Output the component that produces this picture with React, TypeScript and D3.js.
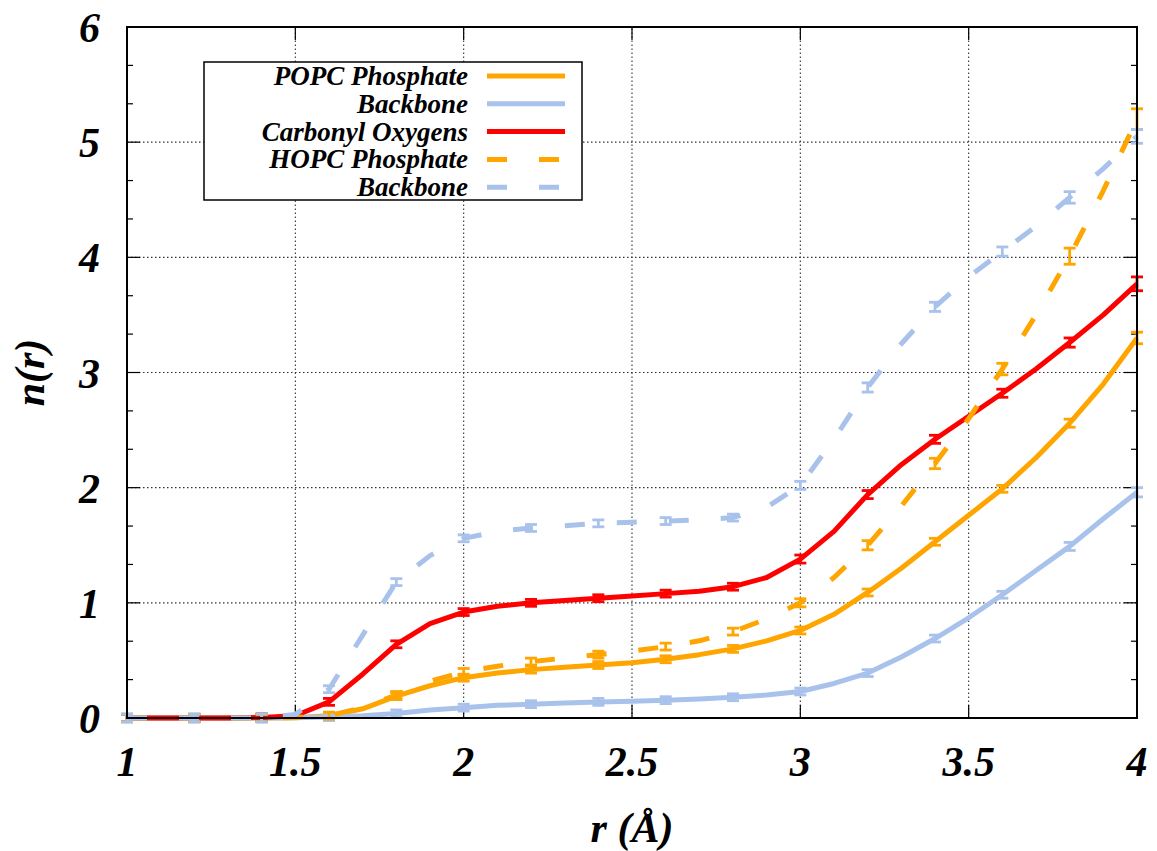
import React, { useEffect, useRef } from 'react';
import * as d3 from 'd3';

// r grid (Å) and the cumulative coordination numbers n(r)
const rValues = [1.0, 1.1, 1.2, 1.3, 1.4, 1.5, 1.6, 1.7, 1.8, 1.9, 2.0, 2.1, 2.2, 2.3, 2.4, 2.5,
  2.6, 2.7, 2.8, 2.9, 3.0, 3.1, 3.2, 3.3, 3.4, 3.5, 3.6, 3.7, 3.8, 3.9, 4.0];

const popcPhosphate = [0, 0, 0, 0, 0, 0.003, 0.02, 0.08, 0.19, 0.28, 0.35, 0.39, 0.42, 0.44, 0.46, 0.48,
  0.51, 0.55, 0.60, 0.67, 0.76, 0.90, 1.09, 1.30, 1.53, 1.76, 1.99, 2.26, 2.56, 2.90, 3.30];
const popcBackbone = [0, 0, 0, 0, 0, 0.002, 0.008, 0.02, 0.04, 0.07, 0.09, 0.11, 0.12, 0.13, 0.14, 0.145,
  0.155, 0.165, 0.18, 0.20, 0.23, 0.30, 0.39, 0.53, 0.69, 0.87, 1.07, 1.28, 1.49, 1.73, 1.96];
const carbonylOxygens = [0, 0, 0, 0, 0.005, 0.02, 0.14, 0.38, 0.64, 0.82, 0.92, 0.97, 1.00, 1.02, 1.04, 1.06,
  1.08, 1.10, 1.14, 1.22, 1.38, 1.62, 1.94, 2.20, 2.42, 2.62, 2.82, 3.03, 3.26, 3.50, 3.77];
const hopcPhosphate = [0, 0, 0, 0, 0, 0.005, 0.02, 0.09, 0.20, 0.32, 0.40, 0.45, 0.49, 0.52, 0.55, 0.58,
  0.62, 0.67, 0.75, 0.86, 1.00, 1.22, 1.50, 1.84, 2.21, 2.60, 3.03, 3.50, 4.01, 4.58, 5.20];
const hopcBackbone = [0, 0, 0, 0, 0, 0.03, 0.25, 0.72, 1.18, 1.41, 1.56, 1.62, 1.65, 1.67, 1.69, 1.70,
  1.71, 1.72, 1.74, 1.83, 2.02, 2.42, 2.87, 3.25, 3.57, 3.83, 4.05, 4.27, 4.52, 4.77, 5.05];

// error bars are only drawn every 0.2 Å
const errR = [1.0, 1.2, 1.4, 1.6, 1.8, 2.0, 2.2, 2.4, 2.6, 2.8, 3.0, 3.2, 3.4, 3.6, 3.8, 4.0];
const popcPhosphateErr = [0.03, 0.03, 0.03, 0.03, 0.03, 0.03, 0.03, 0.03, 0.03, 0.03, 0.03, 0.03, 0.03, 0.03, 0.035, 0.05];
const popcBackboneErr = [0.035, 0.035, 0.035, 0.03, 0.03, 0.03, 0.03, 0.03, 0.03, 0.03, 0.03, 0.03, 0.03, 0.03, 0.035, 0.04];
const carbonylErr = [0.03, 0.03, 0.03, 0.03, 0.03, 0.03, 0.03, 0.03, 0.03, 0.03, 0.035, 0.035, 0.035, 0.035, 0.04, 0.06];
const hopcPhosphateErr = [0.03, 0.03, 0.03, 0.03, 0.03, 0.03, 0.03, 0.03, 0.03, 0.03, 0.035, 0.04, 0.045, 0.05, 0.07, 0.09];
const hopcBackboneErr = [0.035, 0.035, 0.035, 0.03, 0.03, 0.03, 0.03, 0.03, 0.03, 0.03, 0.035, 0.04, 0.04, 0.04, 0.05, 0.06];

const xTicks = [1, 1.5, 2, 2.5, 3, 3.5, 4];
const yTicks = [0, 1, 2, 3, 4, 5, 6];

const seriesNames = ['POPC Phosphate', 'Backbone', 'Carbonyl Oxygens', 'HOPC Phosphate', 'Backbone'];

const ORANGE = '#ffa500';
const LBLUE = '#a8c2ec';
const RED = '#ff0000';
const FONT = '"Liberation Serif", "Times New Roman", serif';

export default function App() {
  const ref = useRef<SVGSVGElement | null>(null);

  const width = 1157;
  const height = 851;
  const margin = { top: 27, right: 20, bottom: 133, left: 127 };

  useEffect(() => {
    const svg = d3.select(ref.current);
    svg.selectAll('*').remove();

    const x = d3.scaleLinear().domain([1, 4]).range([margin.left, width - margin.right]);
    const y = d3.scaleLinear().domain([0, 6]).range([height - margin.bottom, margin.top]);
    const [x0, x1] = x.range();
    const [y0, y1] = y.range();

    svg.append('rect').attr('width', width).attr('height', height).attr('fill', '#fff');

    // dotted grid
    const grid = svg.append('g').attr('stroke', '#333').attr('stroke-width', 1.1)
      .attr('stroke-dasharray', '1.5,2.5');
    xTicks.slice(1, -1).forEach(t => {
      grid.append('line').attr('x1', x(t)).attr('x2', x(t)).attr('y1', y0).attr('y2', y1);
    });
    yTicks.slice(1, -1).forEach(t => {
      grid.append('line').attr('x1', x0).attr('x2', x1).attr('y1', y(t)).attr('y2', y(t));
    });

    // ticks (inward, mirrored)
    const ticks = svg.append('g').attr('stroke', '#000').attr('stroke-width', 1.2);
    yTicks.forEach(t => {
      ticks.append('line').attr('x1', x0).attr('x2', x0 + 13).attr('y1', y(t)).attr('y2', y(t));
      ticks.append('line').attr('x1', x1).attr('x2', x1 - 13).attr('y1', y(t)).attr('y2', y(t));
    });
    d3.range(1, 18).filter(k => k % 3 !== 0).forEach(k => {
      const v = k / 3;
      ticks.append('line').attr('x1', x0).attr('x2', x0 + 6).attr('y1', y(v)).attr('y2', y(v));
      ticks.append('line').attr('x1', x1).attr('x2', x1 - 6).attr('y1', y(v)).attr('y2', y(v));
    });
    xTicks.forEach(t => {
      ticks.append('line').attr('x1', x(t)).attr('x2', x(t)).attr('y1', y0).attr('y2', y0 - 13);
      ticks.append('line').attr('x1', x(t)).attr('x2', x(t)).attr('y1', y1).attr('y2', y1 + 13);
    });

    // tick labels
    svg.append('g').selectAll('text').data(yTicks).join('text')
      .attr('x', 100).attr('y', d => y(d)).attr('dy', '0.36em')
      .attr('text-anchor', 'end')
      .attr('font-family', FONT).attr('font-size', 42)
      .attr('font-weight', 'bold').attr('font-style', 'italic')
      .text(d => d3.format('~g')(d));

    svg.append('g').selectAll('text').data(xTicks).join('text')
      .attr('x', d => x(d)).attr('y', 776)
      .attr('text-anchor', 'middle')
      .attr('font-family', FONT).attr('font-size', 42)
      .attr('font-weight', 'bold').attr('font-style', 'italic')
      .text(d => d3.format('~g')(d));

    // axis titles
    svg.append('text')
      .attr('transform', `translate(44,${(y0 + y1) / 2}) rotate(-90)`)
      .attr('text-anchor', 'middle')
      .attr('font-family', FONT).attr('font-size', 42)
      .attr('font-weight', 'bold').attr('font-style', 'italic')
      .text('n(r)');
    svg.append('text')
      .attr('x', (x0 + x1) / 2).attr('y', 842)
      .attr('text-anchor', 'middle')
      .attr('font-family', FONT).attr('font-size', 42)
      .attr('font-weight', 'bold').attr('font-style', 'italic')
      .text('r (Å)');

    const line = d3.line<number>()
      .x((d, i) => x(rValues[i]))
      .y(d => y(d));

    const series = [
      { values: popcPhosphate, err: popcPhosphateErr, color: ORANGE, dash: null },
      { values: popcBackbone, err: popcBackboneErr, color: LBLUE, dash: null },
      { values: carbonylOxygens, err: carbonylErr, color: RED, dash: null },
      { values: hopcPhosphate, err: hopcPhosphateErr, color: ORANGE, dash: '20,32' },
      { values: hopcBackbone, err: hopcBackboneErr, color: LBLUE, dash: '20,32' },
    ];

    const plot = svg.append('g');
    series.forEach(s => {
      plot.append('path')
        .datum(s.values)
        .attr('fill', 'none')
        .attr('stroke', s.color)
        .attr('stroke-width', 5)
        .attr('stroke-linejoin', 'round')
        .attr('stroke-dasharray', s.dash)
        .attr('d', line);

      const eb = plot.append('g').attr('stroke', s.color).attr('stroke-width', 2.8);
      errR.forEach((r, j) => {
        const v = s.values[rValues.indexOf(r)];
        const e = s.err[j];
        const cx = x(r);
        eb.append('line').attr('x1', cx).attr('x2', cx).attr('y1', y(v - e)).attr('y2', y(v + e));
        eb.append('line').attr('x1', cx - 6).attr('x2', cx + 6).attr('y1', y(v - e)).attr('y2', y(v - e));
        eb.append('line').attr('x1', cx - 6).attr('x2', cx + 6).attr('y1', y(v + e)).attr('y2', y(v + e));
      });
    });

    // border
    svg.append('rect')
      .attr('x', x0).attr('y', y1).attr('width', x1 - x0).attr('height', y0 - y1)
      .attr('fill', 'none').attr('stroke', '#000').attr('stroke-width', 2);

    // legend
    const legend = svg.append('g');
    legend.append('rect')
      .attr('x', 204).attr('y', 62).attr('width', 378).attr('height', 138)
      .attr('fill', '#fff').attr('stroke', '#000').attr('stroke-width', 1.5);
    series.forEach((s, i) => {
      const ly = 76 + i * 27.8;
      legend.append('text')
        .attr('x', 468).attr('y', ly).attr('dy', '0.33em')
        .attr('text-anchor', 'end')
        .attr('font-family', FONT).attr('font-size', 27)
        .attr('font-weight', 'bold').attr('font-style', 'italic')
        .text(seriesNames[i]);
      legend.append('line')
        .attr('x1', 487).attr('x2', 565).attr('y1', ly).attr('y2', ly)
        .attr('stroke', s.color).attr('stroke-width', 5)
        .attr('stroke-dasharray', s.dash);
    });
  }, []);

  return (
    <svg ref={ref} width={width} height={height}
         style={{ position: 'absolute', left: 0, top: 0, display: 'block' }} />
  );
}
